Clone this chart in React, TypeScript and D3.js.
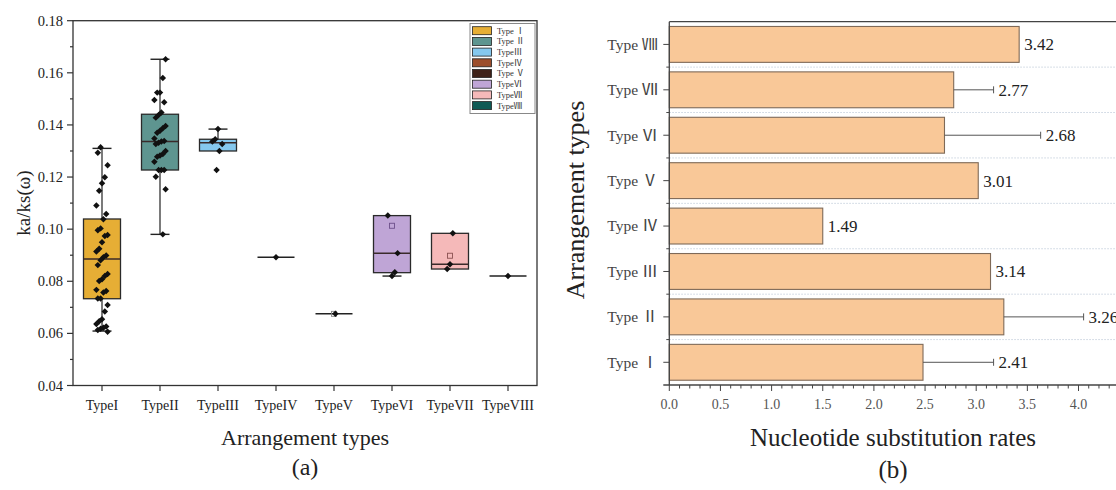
import * as d3 from "d3";
import { useEffect, useRef } from "react";

// ---- panel (a): ka/ks box plot ----
const TYPES = ["TypeI", "TypeII", "TypeIII", "TypeIV", "TypeV", "TypeVI", "TypeVII", "TypeVIII"];
const LEGEND_LABELS = ["Type Ⅰ", "Type Ⅱ", "TypeⅢ", "TypeⅣ", "Type Ⅴ", "TypeⅥ", "TypeⅦ", "TypeⅧ"];
const BOX_COLORS = ["#E6AE35", "#5E9590", "#85C8EE", "#9C4E2C", "#3E2118", "#BFA5D6", "#F5B9B9", "#0F5A55"];
const MEAN_COLORS = ["#333", "#333", "#333", "#333", "#888", "#6d4f8a", "#8a5050", "#333"];

const Q1 = [0.0733, 0.1227, 0.13, 0.0892, 0.0675, 0.0833, 0.0847, 0.082];
const MEDIAN = [0.0885, 0.1336, 0.1332, 0.0892, 0.0675, 0.0908, 0.0865, 0.082];
const Q3 = [0.1039, 0.1441, 0.1345, 0.0892, 0.0675, 0.1052, 0.0984, 0.082];
const WHISK_LO = [0.0609, 0.098, 0.13, 0.0892, 0.0675, 0.082, 0.0847, 0.082];
const WHISK_HI = [0.131, 0.1652, 0.1384, 0.0892, 0.0675, 0.1052, 0.0984, 0.082];
const MEANS: (number | null)[] = [null, null, null, null, 0.0675, 0.1013, 0.0898, null];

const POINTS_I = [
  0.1314, 0.1293, 0.1245, 0.1199, 0.1176, 0.1147, 0.1091, 0.1058, 0.1038, 0.1003, 0.0996, 0.0978, 0.0974,
  0.095, 0.0925, 0.0914, 0.0899, 0.0892, 0.0881, 0.0862, 0.0828, 0.082, 0.0808, 0.0801, 0.0767, 0.0763,
  0.0757, 0.0734, 0.0734, 0.0709, 0.0684, 0.0654, 0.0647, 0.0636, 0.0626, 0.0622, 0.0618, 0.0613, 0.0606,
];
const POINTS_II = [
  0.1652, 0.158, 0.1524, 0.1524, 0.1496, 0.1487, 0.1448, 0.1438, 0.1428, 0.1396, 0.1387, 0.1378, 0.137,
  0.1348, 0.1338, 0.1336, 0.1332, 0.1327, 0.13, 0.1288, 0.1283, 0.1278, 0.1259, 0.1227, 0.1227, 0.1227,
  0.1201, 0.1153, 0.098,
];
const POINTS_III = [0.1384, 0.1345, 0.1336, 0.1327, 0.13, 0.1227];
const POINTS_IV = [0.0892];
const POINTS_V = [0.0675];
const POINTS_VI = [0.1052, 0.0908, 0.0835, 0.082];
const POINTS_VII = [0.0984, 0.0865, 0.0847];
const POINTS_VIII = [0.082];
const POINTS = [POINTS_I, POINTS_II, POINTS_III, POINTS_IV, POINTS_V, POINTS_VI, POINTS_VII, POINTS_VIII];
const KA_TICKS = [0.04, 0.06, 0.08, 0.1, 0.12, 0.14, 0.16, 0.18];

// ---- panel (b): substitution rates ----
const RATE_NUMERALS = ["Ⅰ", "Ⅱ", "Ⅲ", "Ⅳ", "Ⅴ", "Ⅵ", "Ⅶ", "Ⅷ"];
const RATE_VALUES = [2.48, 3.27, 3.14, 1.5, 3.02, 2.69, 2.78, 3.42];
const RATE_ERRORS = [0.69, 0.78, 0, 0, 0, 0.94, 0.39, 0];
const RATE_LABELS = ["2.41", "3.26", "3.14", "1.49", "3.01", "2.68", "2.77", "3.42"];
const RATE_TICKS = [0, 0.5, 1, 1.5, 2, 2.5, 3, 3.5, 4];

const SERIF = "'Liberation Serif', 'Times New Roman', serif";
const CJK = "'Noto Sans CJK KR', 'Noto Sans CJK SC', sans-serif";

// small deterministic spread so dots do not stack on the centre line
const jitter = (i: number, k: number) => ((((i * 7 + k * 5 + 3) % 9) - 4) * 1.4);

export default function App() {
  const svgRef = useRef<SVGSVGElement>(null);

  useEffect(() => {
    const svg = d3.select(svgRef.current);
    svg.selectAll("*").remove();

    // ================= (a) =================
    const x = d3.scaleBand().domain(TYPES).range([73, 537]);
    const y = d3.scaleLinear().domain([0.04, 0.18]).range([385.5, 20.7]);
    const cx = (t: string) => (x(t) ?? 0) + x.bandwidth() / 2;
    const boxW = 37;
    const capW = 19;

    const a = svg.append("g");

    TYPES.forEach((t, k) => {
      const c = cx(t);
      // whiskers
      if (WHISK_HI[k] > Q3[k]) {
        a.append("line").attr("x1", c).attr("x2", c).attr("y1", y(WHISK_HI[k])).attr("y2", y(Q3[k]))
          .attr("stroke", "#222").attr("stroke-width", 1.2);
        a.append("line").attr("x1", c - capW / 2).attr("x2", c + capW / 2)
          .attr("y1", y(WHISK_HI[k])).attr("y2", y(WHISK_HI[k])).attr("stroke", "#222").attr("stroke-width", 1.4);
      }
      if (WHISK_LO[k] < Q1[k]) {
        a.append("line").attr("x1", c).attr("x2", c).attr("y1", y(Q1[k])).attr("y2", y(WHISK_LO[k]))
          .attr("stroke", "#222").attr("stroke-width", 1.2);
        a.append("line").attr("x1", c - capW / 2).attr("x2", c + capW / 2)
          .attr("y1", y(WHISK_LO[k])).attr("y2", y(WHISK_LO[k])).attr("stroke", "#222").attr("stroke-width", 1.4);
      }
      // box
      if (Q3[k] > Q1[k]) {
        a.append("rect").attr("x", c - boxW / 2).attr("width", boxW)
          .attr("y", y(Q3[k])).attr("height", y(Q1[k]) - y(Q3[k]))
          .attr("fill", BOX_COLORS[k]).attr("stroke", "#2a2a2a").attr("stroke-width", 1.3);
      }
      a.append("line").attr("x1", c - boxW / 2).attr("x2", c + boxW / 2)
        .attr("y1", y(MEDIAN[k])).attr("y2", y(MEDIAN[k]))
        .attr("stroke", Q3[k] > Q1[k] ? "#3a2a2a" : "#222").attr("stroke-width", 1.5);
      const m = MEANS[k];
      if (m != null) {
        a.append("rect").attr("x", cx(t) - 2.5).attr("y", y(m) - 2.5).attr("width", 5).attr("height", 5)
          .attr("fill", "none").attr("stroke", MEAN_COLORS[k]).attr("stroke-width", 0.9);
      }
      // dots: squares turned 45deg
      POINTS[k].forEach((v, i) => {
        const px = POINTS[k].length === 1 && k !== 4 ? c : c + jitter(i, k);
        a.append("path")
          .attr("d", d3.symbol(d3.symbolSquare, 21)())
          .attr("transform", `translate(${px},${y(v)}) rotate(45)`)
          .attr("fill", "#111");
      });
    });

    // frame
    a.append("rect").attr("x", 73).attr("y", 20.7).attr("width", 464).attr("height", 385.5 - 20.7)
      .attr("fill", "none").attr("stroke", "#333").attr("stroke-width", 1.3);

    // y axis ticks
    d3.range(0.04, 0.1801, 0.01).forEach((v) => {
      const major = KA_TICKS.some((t) => Math.abs(t - v) < 1e-6);
      a.append("line").attr("x1", 73).attr("x2", 73 - (major ? 6 : 3))
        .attr("y1", y(v)).attr("y2", y(v)).attr("stroke", "#333").attr("stroke-width", 1.2);
    });
    KA_TICKS.forEach((v) => {
      a.append("text").attr("x", 63).attr("y", y(v)).attr("dy", "0.35em").attr("text-anchor", "end")
        .attr("font-family", SERIF).attr("font-size", 14.5).attr("fill", "#222").text(d3.format(".2f")(v));
    });
    // x axis ticks
    TYPES.forEach((t) => {
      a.append("line").attr("x1", cx(t)).attr("x2", cx(t)).attr("y1", 385.5).attr("y2", 391)
        .attr("stroke", "#333").attr("stroke-width", 1.2);
      a.append("text").attr("x", cx(t)).attr("y", 410).attr("text-anchor", "middle")
        .attr("font-family", SERIF).attr("font-size", 14).attr("fill", "#222").text(t);
    });

    // legend
    const lg = a.append("g");
    lg.append("rect").attr("x", 470).attr("y", 23.5).attr("width", 65).attr("height", 90)
      .attr("fill", "#fff").attr("stroke", "#888").attr("stroke-width", 1);
    LEGEND_LABELS.forEach((lab, k) => {
      const ry = 30.7 + k * 10.7;
      lg.append("rect").attr("x", 472.5).attr("y", ry - 4).attr("width", 19).attr("height", 8)
        .attr("fill", BOX_COLORS[k]).attr("stroke", "#222").attr("stroke-width", 0.8);
      lg.append("text").attr("x", 497).attr("y", ry).attr("dy", "0.35em")
        .attr("font-family", `${SERIF.replace(", serif", "")}, ${CJK}`).attr("font-size", 8.5).attr("fill", "#333")
        .text(lab);
    });

    // titles
    a.append("text").attr("transform", `translate(30,203) rotate(-90)`).attr("text-anchor", "middle")
      .attr("font-family", SERIF).attr("font-size", 19).attr("fill", "#222").text("ka/ks(ω)");
    a.append("text").attr("x", 305).attr("y", 445).attr("text-anchor", "middle")
      .attr("font-family", SERIF).attr("font-size", 22).attr("fill", "#222").text("Arrangement types");
    a.append("text").attr("x", 305).attr("y", 475).attr("text-anchor", "middle")
      .attr("font-family", SERIF).attr("font-size", 24).attr("fill", "#222").text("(a)");

    // ================= (b) =================
    const b = svg.append("g");
    const yr = d3.scaleBand().domain([...RATE_NUMERALS].reverse()).range([21.7, 385])
      .paddingInner(0.21).paddingOuter(0.105);
    const xr = d3.scaleLinear().domain([0, 4.5]).range([669.3, 669.3 + 4.5 * 102.3]);
    const step = yr.step();
    const bw = yr.bandwidth();
    const left = 669.3;
    const bottom = 385;

    // dotted separators + minor ticks at band edges
    RATE_NUMERALS.slice(1).forEach((n) => {
      const yy = (yr(n) ?? 0) + bw + (step - bw) / 2;
      b.append("line").attr("x1", left).attr("x2", 1116).attr("y1", yy).attr("y2", yy)
        .attr("stroke", "#c9d3df").attr("stroke-width", 1).attr("stroke-dasharray", "1.5,1.5");
      b.append("line").attr("x1", left).attr("x2", left - 3).attr("y1", yy).attr("y2", yy)
        .attr("stroke", "#444").attr("stroke-width", 1);
    });

    RATE_NUMERALS.forEach((n, k) => {
      const top = yr(n) ?? 0;
      const c = top + bw / 2;
      b.append("rect").attr("x", left).attr("y", top).attr("width", xr(RATE_VALUES[k]) - left).attr("height", bw)
        .attr("fill", "#F9C898").attr("stroke", "#7f6a58").attr("stroke-width", 1.1);
      let end = xr(RATE_VALUES[k]);
      if (RATE_ERRORS[k] > 0) {
        const e = xr(RATE_VALUES[k] + RATE_ERRORS[k]);
        b.append("line").attr("x1", end).attr("x2", e).attr("y1", c).attr("y2", c)
          .attr("stroke", "#555").attr("stroke-width", 1);
        b.append("line").attr("x1", e).attr("x2", e).attr("y1", c - 3.5).attr("y2", c + 3.5)
          .attr("stroke", "#555").attr("stroke-width", 1);
        end = e;
      }
      b.append("text").attr("x", end + 5).attr("y", c).attr("dy", "0.35em")
        .attr("font-family", SERIF).attr("font-size", 17).attr("fill", "#222").text(RATE_LABELS[k]);

      // y tick + label
      b.append("line").attr("x1", left).attr("x2", left - 6).attr("y1", c).attr("y2", c)
        .attr("stroke", "#444").attr("stroke-width", 1);
      const tx = b.append("text").attr("x", 658).attr("y", c).attr("dy", "0.35em").attr("text-anchor", "end")
        .attr("font-size", 15.5).attr("fill", "#444");
      tx.append("tspan").attr("font-family", SERIF).text("Type ");
      tx.append("tspan").attr("font-family", CJK).attr("font-size", 16).text(n);
    });

    // axes lines
    b.append("line").attr("x1", left).attr("x2", 1116).attr("y1", 21.7).attr("y2", 21.7)
      .attr("stroke", "#444").attr("stroke-width", 1.3);
    b.append("line").attr("x1", left).attr("x2", left).attr("y1", 21.7).attr("y2", bottom)
      .attr("stroke", "#444").attr("stroke-width", 1.3);
    b.append("line").attr("x1", left - 6).attr("x2", 1116).attr("y1", bottom).attr("y2", bottom)
      .attr("stroke", "#444").attr("stroke-width", 1.3);
    d3.range(0, 4.41, 0.1).forEach((v) => {
      const major = RATE_TICKS.some((t) => Math.abs(t - v) < 1e-6);
      b.append("line").attr("x1", xr(v)).attr("x2", xr(v)).attr("y1", bottom).attr("y2", bottom + (major ? 6 : 3.5))
        .attr("stroke", "#444").attr("stroke-width", 1);
    });
    RATE_TICKS.forEach((v) => {
      b.append("text").attr("x", xr(v)).attr("y", 409).attr("text-anchor", "middle")
        .attr("font-family", SERIF).attr("font-size", 14).attr("fill", "#555").text(d3.format(".1f")(v));
    });

    b.append("text").attr("transform", `translate(584,200) rotate(-90)`).attr("text-anchor", "middle")
      .attr("font-family", SERIF).attr("font-size", 26).attr("fill", "#222").text("Arrangement types");
    b.append("text").attr("x", 893).attr("y", 446).attr("text-anchor", "middle")
      .attr("font-family", SERIF).attr("font-size", 25).attr("fill", "#222").text("Nucleotide substitution rates");
    b.append("text").attr("x", 893).attr("y", 478).attr("text-anchor", "middle")
      .attr("font-family", SERIF).attr("font-size", 25).attr("fill", "#222").text("(b)");
  }, []);

  return (
    <svg
      ref={svgRef}
      width={1116}
      height={490}
      style={{ position: "absolute", left: 0, top: 0, background: "#fff" }}
    />
  );
}
